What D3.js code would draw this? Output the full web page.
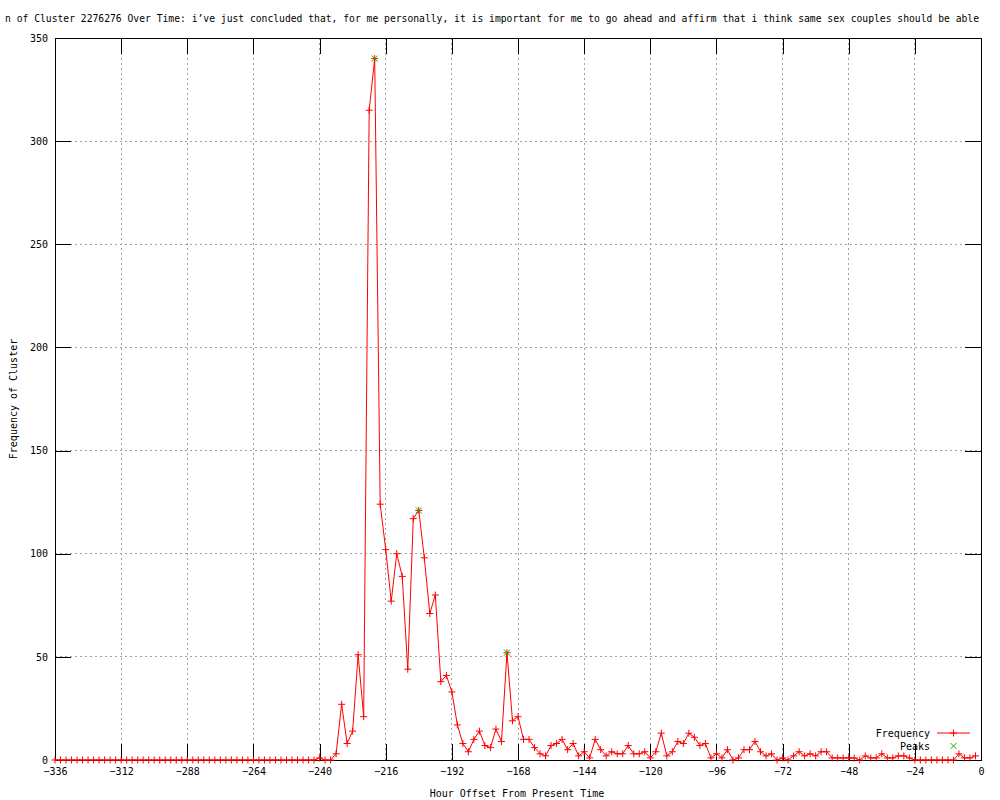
<!DOCTYPE html>
<html><head><meta charset="utf-8">
<script src="https://cdn.jsdelivr.net/npm/d3@7"></script>
<style>body{margin:0;background:#fff}svg{display:block}</style>
</head><body>
<script>
// ---- data ----
const hours = d3.range(-336, 0, 2); // 2-hour bins from -336 to -2
const freq = [
  0,0,0,0,0,0,0,0,0,0, 0,0,0,0,0,0,0,0,0,0, 0,0,0,0,0,0,0,0,0,0, 0,0,0,0,0,0,0,0,0,0, 0,0,0,0,0,
  0,0,0,1,0,0,3,27,8,14,
  51,21,315,340,124,102,77,100,89,44,
  117,121,98,71,80,38,41,33,17,8,
  4,10,14,7,6,15,9,52,19,21,
  10,10,6,3,2,7,8,10,5,8,
  2,4,1,10,5,2,4,3,3,7,
  3,3,4,1,4,13,2,4,9,8,
  13,11,7,8,1,3,1,5,0,1,
  5,5,9,4,2,3,0,1,0,2,
  4,2,3,2,4,4,1,1,1,1,
  1,0,2,1,1,3,1,1,2,2,
  1,0,0,0,0,0,0,0,0,3,
  1,1,2
];
const peakHours = [-220, -204, -172];
const xTicks = [-336,-312,-288,-264,-240,-216,-192,-168,-144,-120,-96,-72,-48,-24,0];
const yTicks = [0,50,100,150,200,250,300,350];
const titleText = "n of Cluster 2276276 Over Time: i’ve just concluded that, for me personally, it is important for me to go ahead and affirm that i think same sex couples should be able";
const xLabel = "Hour Offset From Present Time";
const yLabel = "Frequency of Cluster";
const legendLabels = ["Frequency", "Peaks"];

// ---- drawing ----
const W = 1000, H = 800;
const L = 55, R = 981, T = 38, B = 760;
const FONT = "'DejaVu Sans Mono', 'Liberation Mono', monospace";
const RED = "#ff0000", GREEN = "#00c000";

const svg = d3.select("body").append("svg").attr("width", W).attr("height", H)
  .style("font-family", FONT);
svg.append("rect").attr("width", W).attr("height", H).attr("fill", "#fff");

const x = d3.scaleLinear().domain([-336, 0]).range([L, R]);
const y = d3.scaleLinear().domain([0, 350]).range([B, T]);

// grid
const grid = svg.append("g").attr("stroke", "#a0a0a0").attr("stroke-dasharray", "2,3")
  .attr("shape-rendering", "crispEdges");
xTicks.forEach(t => grid.append("line").attr("x1", x(t)).attr("x2", x(t)).attr("y1", T).attr("y2", B));
yTicks.forEach(t => grid.append("line").attr("x1", L).attr("x2", R).attr("y1", y(t)).attr("y2", y(t)));

// axes
function styleAxis(g, labels) {
  g.select(".domain").remove();
  g.selectAll(".tick line").attr("stroke", "#000").attr("shape-rendering", "crispEdges");
  g.selectAll(".tick text").attr("fill", "#000").style("font-size", "10px").style("font-family", FONT);
  if (!labels) g.selectAll(".tick text").remove();
}
svg.append("g").attr("transform", `translate(0,${B})`)
  .call(d3.axisBottom(x).tickValues(xTicks).tickFormat(d3.format("d")).tickSizeInner(-16).tickSizeOuter(0).tickPadding(8))
  .call(g => styleAxis(g, true));
svg.append("g").attr("transform", `translate(0,${T})`)
  .call(d3.axisTop(x).tickValues(xTicks).tickSizeInner(-16).tickSizeOuter(0))
  .call(g => styleAxis(g, false));
svg.append("g").attr("transform", `translate(${L},0)`)
  .call(d3.axisLeft(y).tickValues(yTicks).tickFormat(d3.format("d")).tickSizeInner(-16).tickSizeOuter(0).tickPadding(7))
  .call(g => styleAxis(g, true));
svg.append("g").attr("transform", `translate(${R},0)`)
  .call(d3.axisRight(y).tickValues(yTicks).tickSizeInner(-16).tickSizeOuter(0))
  .call(g => styleAxis(g, false));

// border
svg.append("rect").attr("x", L).attr("y", T).attr("width", R - L).attr("height", B - T)
  .attr("fill", "none").attr("stroke", "#000").attr("shape-rendering", "crispEdges");

// data line
const data = hours.map((h, i) => ({h, v: freq[i]}));
const line = d3.line().x(d => x(d.h)).y(d => y(d.v));
svg.append("path").datum(data).attr("d", line).attr("fill", "none").attr("stroke", RED).attr("stroke-width", 1);

const plusPath = "M-3.5,0H3.5M0,-3.5V3.5";
const xPath = "M-3,-3L3,3M-3,3L3,-3";
svg.append("g").selectAll("path").data(data).join("path")
  .attr("transform", d => `translate(${x(d.h)},${y(d.v)})`)
  .attr("d", plusPath).attr("stroke", RED).attr("fill", "none");

// peaks
const peaks = data.filter(d => peakHours.includes(d.h));
svg.append("g").selectAll("path").data(peaks).join("path")
  .attr("transform", d => `translate(${x(d.h)},${y(d.v)})`)
  .attr("d", xPath).attr("stroke", GREEN).attr("fill", "none");

// legend
const lg = svg.append("g").style("font-size", "10px");
lg.append("text").attr("x", 930).attr("y", 733).attr("dy", "0.35em").attr("text-anchor", "end").text(legendLabels[0]);
lg.append("line").attr("x1", 937).attr("x2", 970).attr("y1", 733).attr("y2", 733).attr("stroke", RED);
lg.append("path").attr("transform", "translate(953.5,733)").attr("d", plusPath).attr("stroke", RED);
lg.append("text").attr("x", 930).attr("y", 746).attr("dy", "0.35em").attr("text-anchor", "end").text(legendLabels[1]);
lg.append("path").attr("transform", "translate(953.5,746)").attr("d", xPath).attr("stroke", GREEN);

// title and axis labels
svg.append("text").attr("x", 5).attr("y", 19).attr("dy", "0.35em")
  .style("font-size", "9.7px").text(titleText);
svg.append("text").attr("x", 517).attr("y", 793).attr("dy", "0.35em").attr("text-anchor", "middle")
  .style("font-size", "10px").text(xLabel);
svg.append("text").attr("transform", "translate(13,399) rotate(-90)").attr("dy", "0.35em")
  .attr("text-anchor", "middle").style("font-size", "10px").text(yLabel);
</script>
</body></html>
